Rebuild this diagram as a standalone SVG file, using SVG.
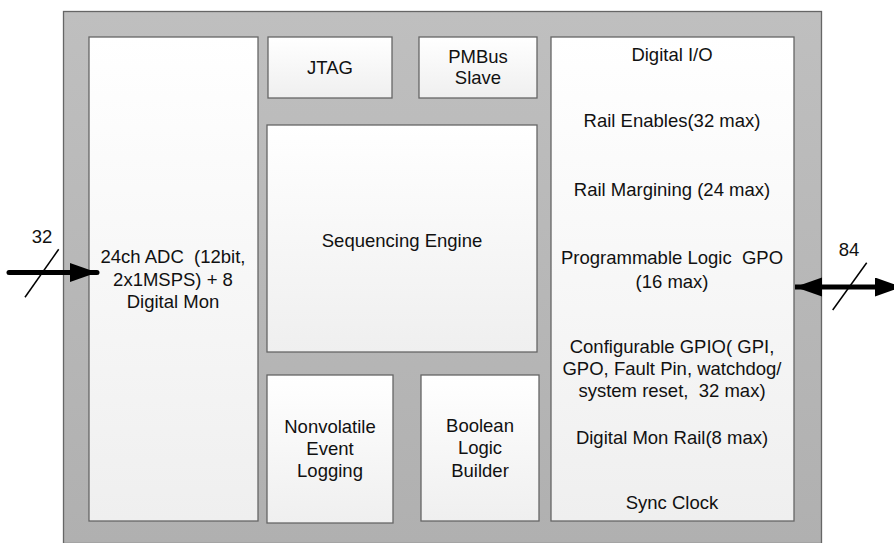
<svg xmlns="http://www.w3.org/2000/svg" width="894" height="543" viewBox="0 0 894 543">
<defs>
<linearGradient id="gOuter" x1="0" y1="0" x2="0" y2="1">
<stop offset="0" stop-color="#bfbfbf"/>
<stop offset="1" stop-color="#b0b0b0"/>
</linearGradient>
<linearGradient id="gBox" x1="0" y1="0" x2="0" y2="1">
<stop offset="0" stop-color="#ffffff"/>
<stop offset="1" stop-color="#efefef"/>
</linearGradient>
<marker id="arr" markerUnits="userSpaceOnUse" markerWidth="28" markerHeight="20" refX="27" refY="9.5" orient="auto-start-reverse" viewBox="0 0 28 20">
<path d="M0,0 L27,9.5 L0,19 z" fill="#000"/>
</marker>
<style>
.box{fill:url(#gBox);stroke:#666;stroke-width:1.3}
.outer{fill:url(#gOuter);stroke:#666;stroke-width:1.3}
text{font-family:"Liberation Sans",Arial,sans-serif;font-size:18.5px;fill:#111;text-anchor:middle;white-space:pre}
.bus{stroke:#000;stroke-width:5;fill:none}
.slash{stroke:#000;stroke-width:1.5;fill:none}
</style>
</defs>
<rect width="894" height="543" fill="#fff"/>
<g id="chip">
<rect class="outer" x="63.5" y="11.5" width="758" height="532"/>
</g>
<g id="adc">
<rect class="box" x="89" y="37" width="169" height="484"/>
<text x="173" y="263" xml:space="preserve">24ch ADC  (12bit,</text>
<text x="173" y="286">2x1MSPS) + 8</text>
<text x="173" y="308">Digital Mon</text>
</g>
<g id="jtag">
<rect class="box" x="268" y="37" width="124" height="61"/>
<text x="330" y="74">JTAG</text>
</g>
<g id="pmbus">
<rect class="box" x="419" y="37" width="118" height="61"/>
<text x="478" y="62.5">PMBus</text>
<text x="478" y="84">Slave</text>
</g>
<g id="seq">
<rect class="box" x="267" y="125" width="270" height="227"/>
<text x="402" y="247">Sequencing Engine</text>
</g>
<g id="nvlog">
<rect class="box" x="267" y="375" width="126" height="148"/>
<text x="330" y="433">Nonvolatile</text>
<text x="330" y="455">Event</text>
<text x="330" y="477">Logging</text>
</g>
<g id="bool">
<rect class="box" x="421" y="375" width="118" height="146"/>
<text x="480" y="432">Boolean</text>
<text x="480" y="454">Logic</text>
<text x="480" y="476.5">Builder</text>
</g>
<g id="dio">
<rect class="box" x="551" y="37" width="243" height="484"/>
<text x="672" y="60.5">Digital I/O</text>
<text x="672" y="127">Rail Enables(32 max)</text>
<text x="672" y="196">Rail Margining (24 max)</text>
<text x="672" y="264" xml:space="preserve">Programmable Logic  GPO</text>
<text x="672" y="288">(16 max)</text>
<text x="672" y="353">Configurable GPIO( GPI,</text>
<text x="672" y="375">GPO, Fault Pin, watchdog/</text>
<text x="672" y="397" xml:space="preserve">system reset,  32 max)</text>
<text x="672" y="444">Digital Mon Rail(8 max)</text>
<text x="672" y="509">Sync Clock</text>
</g>
<g id="connectors">
<line class="bus" x1="9" y1="272.5" x2="97" y2="272.5" marker-end="url(#arr)" stroke-linecap="round"/>
<line class="slash" x1="58.7" y1="249.3" x2="25" y2="297.3"/>
<text x="42" y="242.7">32</text>
<line class="bus" x1="795" y1="287" x2="902" y2="287" marker-start="url(#arr)" marker-end="url(#arr)"/>
<line class="slash" x1="866.7" y1="262.7" x2="832.7" y2="310"/>
<text x="849" y="256">84</text>
</g>
</svg>
